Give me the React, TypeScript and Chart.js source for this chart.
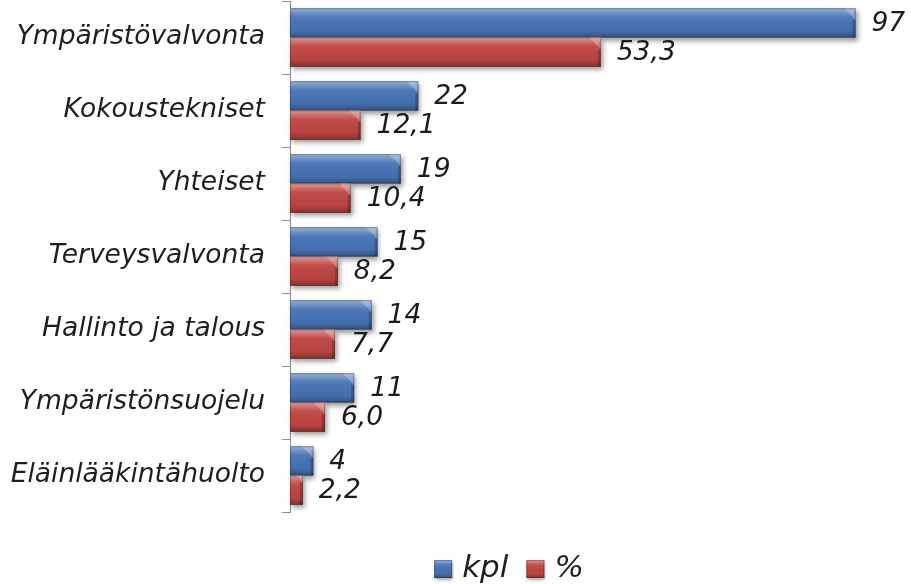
import React, { useEffect, useRef } from 'react';
import { Chart, registerables } from 'chart.js';

Chart.register(...registerables);

const categories = [
  'Ympäristövalvonta',
  'Kokoustekniset',
  'Yhteiset',
  'Terveysvalvonta',
  'Hallinto ja talous',
  'Ympäristönsuojelu',
  'Eläinlääkintähuolto',
];
const kplValues = [97, 22, 19, 15, 14, 11, 4];
const pctValues = [53.3, 12.1, 10.4, 8.2, 7.7, 6.0, 2.2];
const seriesNames = ['kpl', '%'];
const xMax = 100;

const FONT = "'DejaVu Sans', Verdana, sans-serif";
const BLUE = '#4672b3';
const RED = '#bd4542';

const fmt = (v: number, i: number) => (i === 0 ? String(v) : v.toFixed(1).replace('.', ','));

function shadeRect(ctx: CanvasRenderingContext2D, l: number, t: number, w: number, h: number, bevel: boolean) {
  const g = ctx.createLinearGradient(0, t, 0, t + h);
  g.addColorStop(0, 'rgba(255,255,255,0.45)');
  g.addColorStop(0.12, 'rgba(255,255,255,0.28)');
  g.addColorStop(0.3, 'rgba(255,255,255,0.05)');
  g.addColorStop(0.75, 'rgba(0,0,0,0.02)');
  g.addColorStop(1, 'rgba(0,0,0,0.28)');
  ctx.fillStyle = g;
  ctx.fillRect(l, t, w, h);
  const r = l + w;
  if (bevel) {
    const bw = Math.min(h * 0.4, w / 2);
    ctx.beginPath();
    ctx.moveTo(r - bw, t);
    ctx.lineTo(r, t);
    ctx.lineTo(r, t + bw);
    ctx.closePath();
    ctx.fillStyle = 'rgba(255,255,255,0.25)';
    ctx.fill();
    ctx.fillStyle = 'rgba(0,0,0,0.18)';
    ctx.fillRect(r - 3, t + bw, 3, h - bw);
  }
  ctx.strokeStyle = 'rgba(0,0,0,0.25)';
  ctx.lineWidth = 1;
  ctx.strokeRect(l + 0.5, t + 0.5, w - 1, h - 1);
}

const barStyle = {
  id: 'barStyle',
  beforeDatasetsDraw(chart: any) {
    const ctx = chart.ctx;
    ctx.save();
    chart.data.datasets.forEach((_ds: any, i: number) => {
      const meta = chart.getDatasetMeta(i);
      meta.data.forEach((el: any) => {
        const { x, y, base, height } = el.getProps(['x', 'y', 'base', 'height'], true);
        const l = Math.min(x, base), r = Math.max(x, base);
        ctx.shadowColor = 'rgba(0,0,0,0.4)';
        ctx.shadowBlur = 5;
        ctx.shadowOffsetX = 2;
        ctx.shadowOffsetY = 3;
        ctx.fillStyle = 'rgba(120,120,120,1)';
        ctx.fillRect(l, y - height / 2, r - l, height);
      });
    });
    ctx.restore();
  },
  afterDatasetsDraw(chart: any) {
    const ctx = chart.ctx;
    ctx.save();
    chart.data.datasets.forEach((ds: any, i: number) => {
      const meta = chart.getDatasetMeta(i);
      meta.data.forEach((el: any, j: number) => {
        const { x, y, base, height } = el.getProps(['x', 'y', 'base', 'height'], true);
        const l = Math.min(x, base), r = Math.max(x, base);
        shadeRect(ctx, l, y - height / 2, r - l, height, true);
        const v = ds.data[j];
        ctx.font = `italic 26.5px ${FONT}`;
        ctx.fillStyle = '#1a1a1a';
        ctx.textAlign = 'left';
        ctx.textBaseline = 'middle';
        ctx.fillText(fmt(v, i), r + 16, y + 1);
      });
    });
    ctx.restore();
  },
  afterDraw(chart: any) {
    // legend
    const ctx = chart.ctx;
    ctx.save();
    const box = 18, gapText = 10, gapItem = 18;
    ctx.font = `italic 31px ${FONT}`;
    const items = chart.data.datasets.map((ds: any) => ({
      text: ds.label,
      color: ds.backgroundColor,
      w: ctx.measureText(ds.label).width,
    }));
    let total = 0;
    items.forEach((it: any, k: number) => {
      total += box + gapText + it.w + (k < items.length - 1 ? gapItem : 0);
    });
    const cx = 509;
    const cy = 569;
    let x = cx - total / 2;
    items.forEach((it: any) => {
      ctx.save();
      ctx.shadowColor = 'rgba(0,0,0,0.35)';
      ctx.shadowBlur = 3;
      ctx.shadowOffsetX = 1;
      ctx.shadowOffsetY = 2;
      ctx.fillStyle = it.color;
      ctx.fillRect(x, cy - box / 2, box, box);
      ctx.restore();
      shadeRect(ctx, x, cy - box / 2, box, box, false);
      ctx.fillStyle = '#1e1e1e';
      ctx.textAlign = 'left';
      ctx.textBaseline = 'middle';
      ctx.fillText(it.text, x + box + gapText, cy);
      x += box + gapText + it.w + gapItem;
    });
    ctx.restore();
  },
};

export default function App() {
  const ref = useRef<HTMLCanvasElement | null>(null);
  useEffect(() => {
    document.body.style.margin = '0';
    const canvas = ref.current!;
    const chart = new Chart(canvas, {
      type: 'bar',
      data: {
        labels: categories,
        datasets: [
          {
            label: seriesNames[0],
            data: kplValues,
            backgroundColor: BLUE,
            borderWidth: 0,
            categoryPercentage: 0.8,
            barPercentage: 1.0,
          },
          {
            label: seriesNames[1],
            data: pctValues,
            backgroundColor: RED,
            borderWidth: 0,
            categoryPercentage: 0.8,
            barPercentage: 1.0,
          },
        ],
      },
      options: {
        indexAxis: 'y',
        responsive: false,
        animation: false,
        layout: { padding: { left: 0, right: 38, top: 1, bottom: 72 } },
        scales: {
          x: { display: false, min: 0, max: xMax },
          y: {
            afterFit: (scale: any) => {
              scale.width = 290;
              scale.paddingTop = 0;
              scale.paddingBottom = 0;
            },
            border: { display: true, color: '#8c8c8c', width: 1 },
            grid: {
              display: true,
              offset: true,
              drawOnChartArea: false,
              drawTicks: true,
              tickLength: 8,
              color: '#8c8c8c',
            },
            ticks: {
              color: '#1e1e1e',
              padding: 17,
              font: { family: FONT, size: 26.5, style: 'italic' },
            },
          },
        },
        plugins: {
          legend: { display: false },
          tooltip: { enabled: false },
        },
      },
      plugins: [barStyle],
    });
    return () => chart.destroy();
  }, []);
  return (
    <div style={{ width: 911, height: 584 }}>
      <canvas ref={ref} width={911} height={584} />
    </div>
  );
}
